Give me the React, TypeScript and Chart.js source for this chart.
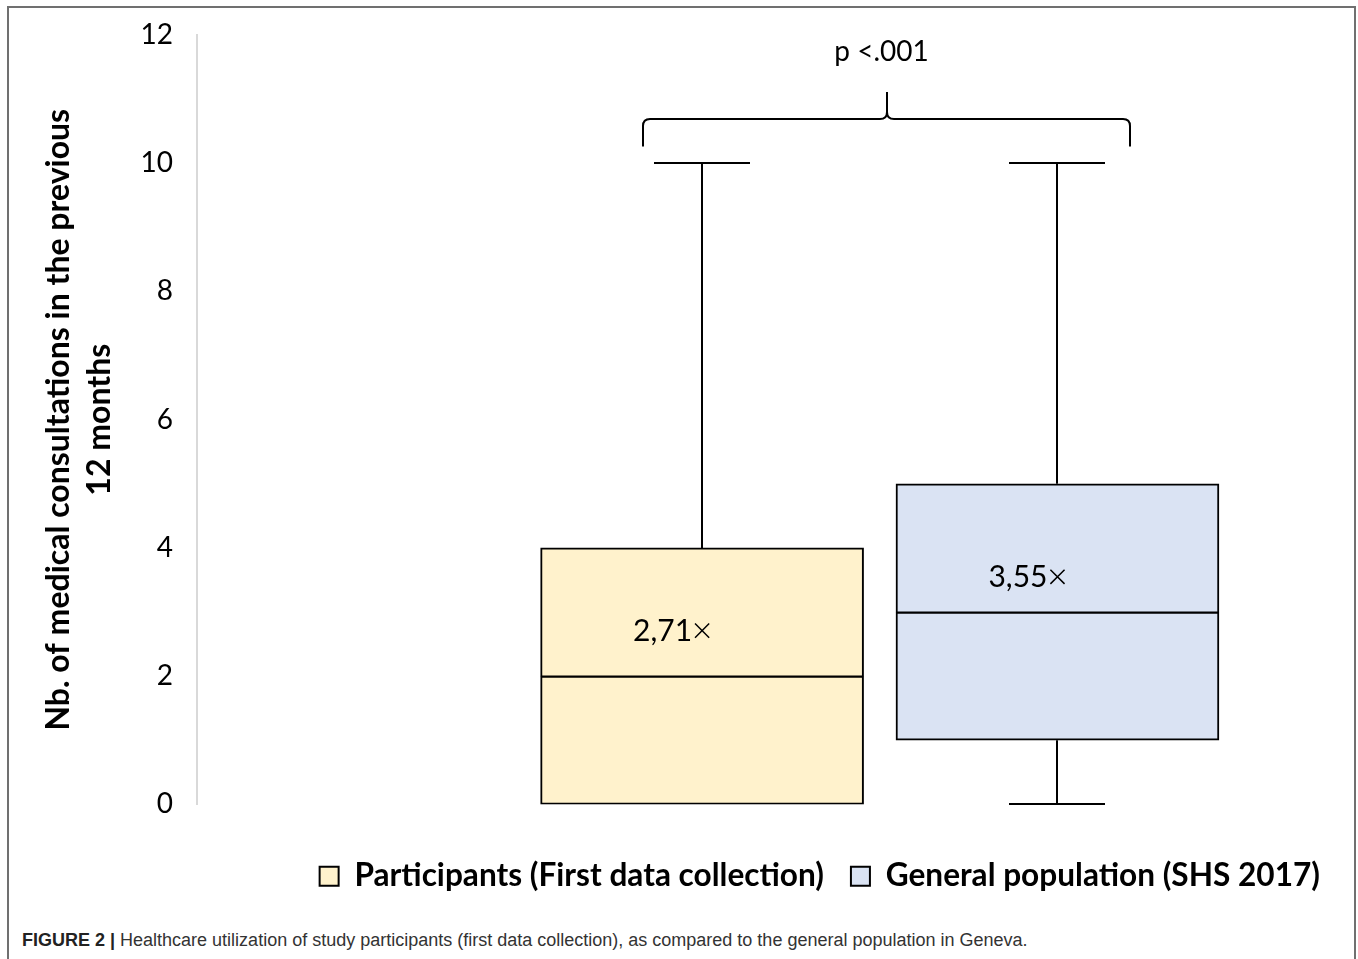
import React, { useEffect, useRef } from 'react';
import { Chart, registerables } from 'chart.js';

Chart.register(...registerables);

// ---- data ----
const seriesNames = ['Participants (First data collection)', 'General population (SHS 2017)'];
const seriesPositions = [1, 2];
const minValues = [0, 0];
const q1Values = [0, 1];
const medianValues = [2, 3];
const q3Values = [4, 5];
const maxValues = [10, 10];
const meanValues = [2.71, 3.55];
const fillColors = ['#FFF2CC', '#DAE3F3'];
const yMin = 0;
const yMax = 12;
const yStep = 2;
const yAxisTitle = ['Nb. of medical consultations in the previous', '12 months'];
const pValueText = 'p <.001';
const captionBold = 'FIGURE 2 |';
const captionText = ' Healthcare utilization of study participants (first data collection), as compared to the general population in Geneva.';

// bracket annotation (data units)
const bracket = { left: 0.835, right: 2.205, tipX: 1.52, endY: 10.26, barY: 10.69, tipY: 11.11, labelX: 1.505, labelY: 11.73 };

const FONT = 'Lato, "Open Sans", sans-serif';

const boxExtras = {
  id: 'boxExtras',
  beforeDatasetsDraw(chart: any) {
    const { ctx, scales } = chart;
    const x = scales.x, y = scales.y;
    ctx.save();
    ctx.strokeStyle = '#000';
    ctx.lineWidth = 2;
    seriesPositions.forEach((pos, i) => {
      const bar = chart.getDatasetMeta(i + 1).data[0];
      const w = bar ? bar.width : 300;
      const cx = Math.round(x.getPixelForValue(pos));
      const half = Math.round(w * 0.3 / 2);
      const yMaxP = Math.round(y.getPixelForValue(maxValues[i]));
      const yQ3 = y.getPixelForValue(q3Values[i]);
      const yMinP = Math.round(y.getPixelForValue(minValues[i]));
      const yQ1 = y.getPixelForValue(q1Values[i]);
      ctx.beginPath();
      ctx.moveTo(cx, yQ3);
      ctx.lineTo(cx, yMaxP);
      ctx.moveTo(cx - half, yMaxP);
      ctx.lineTo(cx + half, yMaxP);
      if (minValues[i] < q1Values[i]) {
        ctx.moveTo(cx, yQ1);
        ctx.lineTo(cx, yMinP);
        ctx.moveTo(cx - half, yMinP);
        ctx.lineTo(cx + half, yMinP);
      }
      ctx.stroke();
    });
    ctx.restore();
  },
  afterDatasetsDraw(chart: any) {
    const { ctx, scales } = chart;
    const x = scales.x, y = scales.y;
    ctx.save();
    // mean labels
    ctx.fillStyle = '#000';
    ctx.font = '30px ' + FONT;
    ctx.textAlign = 'right';
    ctx.textBaseline = 'middle';
    seriesPositions.forEach((pos, i) => {
      const px = x.getPixelForValue(pos);
      const py = y.getPixelForValue(meanValues[i]);
      ctx.fillText(meanValues[i].toFixed(2).replace('.', ','), px - 10, py + 1);
    });
    // bracket
    const xl = Math.round(x.getPixelForValue(bracket.left));
    const xr = Math.round(x.getPixelForValue(bracket.right));
    const xm = Math.round(x.getPixelForValue(bracket.tipX));
    const ye = y.getPixelForValue(bracket.endY);
    const yb = Math.round(y.getPixelForValue(bracket.barY));
    const yt = y.getPixelForValue(bracket.tipY);
    const r = 7;
    ctx.strokeStyle = '#000';
    ctx.lineWidth = 2;
    ctx.beginPath();
    ctx.moveTo(xl, ye);
    ctx.lineTo(xl, yb + r);
    ctx.quadraticCurveTo(xl, yb, xl + r, yb);
    ctx.lineTo(xm - r, yb);
    ctx.quadraticCurveTo(xm, yb, xm, yb - r);
    ctx.lineTo(xm, yt);
    ctx.moveTo(xm, yb - r);
    ctx.quadraticCurveTo(xm, yb, xm + r, yb);
    ctx.lineTo(xr - r, yb);
    ctx.quadraticCurveTo(xr, yb, xr, yb + r);
    ctx.lineTo(xr, ye);
    ctx.stroke();
    // p value
    ctx.textAlign = 'center';
    ctx.font = '28px ' + FONT;
    ctx.fillText(pValueText, x.getPixelForValue(bracket.labelX), y.getPixelForValue(bracket.labelY));
    ctx.restore();
  },
};

export default function App() {
  const canvasRef = useRef<HTMLCanvasElement | null>(null);

  useEffect(() => {
    if (!canvasRef.current) return;
    const boxDatasets = seriesNames.map((name, i) => ({
      type: 'bar' as const,
      label: name,
      data: [
        { x: seriesPositions[i], y: [q1Values[i], medianValues[i]] },
        { x: seriesPositions[i], y: [medianValues[i], q3Values[i]] },
      ],
      backgroundColor: fillColors[i],
      borderColor: '#000',
      borderWidth: (c: any) =>
        c.dataIndex === 0
          ? { top: 2, left: 2, right: 2, bottom: 2 }
          : { top: 2, left: 2, right: 2, bottom: 1 },
      borderSkipped: false,
      barThickness: 323,
      grouped: false,
      order: 2,
    }));
    const meanDataset = {
      type: 'scatter' as const,
      label: 'Mean',
      data: seriesPositions.map((p, i) => ({ x: p, y: meanValues[i] })),
      pointStyle: 'crossRot',
      pointRadius: 10,
      pointHoverRadius: 10,
      borderColor: '#000',
      backgroundColor: '#000',
      borderWidth: 1.5,
      showLine: false,
      order: 0,
    };

    const chart = new Chart(canvasRef.current, {
      type: 'bar',
      data: { datasets: [meanDataset as any, ...boxDatasets] },
      options: {
        responsive: false,
        animation: false,
        events: [],
        layout: { padding: { top: 27, right: 3, bottom: 4, left: 0 } },
        plugins: {
          tooltip: { enabled: false },
          title: { display: false },
          legend: {
            display: true,
            position: 'bottom',
            align: 'end',
            labels: {
              boxWidth: 19,
              boxHeight: 19,
              padding: 27,
              color: '#000',
              font: { family: FONT, size: 31.6, weight: 'bold' },
              generateLabels: () =>
                seriesNames.map((name, i) => ({
                  text: name,
                  fillStyle: fillColors[i],
                  strokeStyle: '#000',
                  lineWidth: 2,
                  hidden: false,
                  datasetIndex: i + 1,
                  fontColor: '#000',
                })),
            },
          },
        },
        scales: {
          x: {
            type: 'linear',
            min: -0.4213,
            max: 2.7908,
            offset: false,
            display: true,
            grid: { display: false, drawTicks: false, offset: false },
            border: { display: false },
            ticks: { display: false },
            afterFit: (s: any) => {
              s.height = 29;
              s.paddingLeft = 0;
              s.paddingRight = 0;
            },
          },
          y: {
            type: 'linear',
            min: yMin,
            max: yMax,
            grid: { display: false, drawTicks: false },
            border: { display: true, color: '#d9d9d9', width: 2 },
            ticks: {
              stepSize: yStep,
              padding: 24,
              color: '#000',
              font: { family: FONT, size: 28 },
            },
            title: {
              display: true,
              text: yAxisTitle,
              color: '#000',
              font: { family: FONT, size: 32, weight: 'bold', lineHeight: 1.28 },
              padding: { top: 28, bottom: 0 },
            },
            afterFit: (s: any) => {
              s.width = 187;
              s.paddingTop = 0;
              s.paddingBottom = 0;
            },
          },
        },
      } as any,
      plugins: [boxExtras],
    });
    return () => chart.destroy();
  }, []);

  return (
    <div style={{ position: 'fixed', left: 0, top: 0, width: 1358, height: 959, overflow: 'hidden', background: '#fff' }}>
      <div
        style={{
          position: 'absolute',
          left: 7,
          top: 6,
          width: 1345,
          height: 955,
          borderLeft: '2px solid #707070',
          borderTop: '2px solid #707070',
          borderRight: '2px solid #707070',
          boxSizing: 'content-box',
        }}
      />
      <canvas
        ref={canvasRef}
        width={1340}
        height={898}
        style={{ position: 'absolute', left: 10, top: 8, width: 1340, height: 898 }}
      />
      <div
        style={{
          position: 'absolute',
          left: 22,
          top: 931,
          fontFamily: '"Liberation Sans Narrow", "Liberation Sans", Arial, sans-serif',
          fontSize: 18,
          lineHeight: '18px',
          color: '#333',
          whiteSpace: 'nowrap',
        }}
      >
        <b style={{ color: '#222' }}>{captionBold}</b>
        {captionText}
      </div>
    </div>
  );
}
